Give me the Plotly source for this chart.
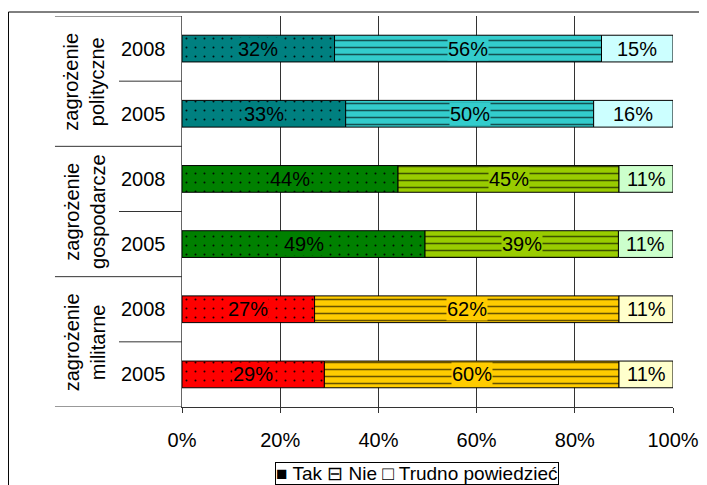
import plotly.graph_objects as go

# ---- data ----
groups = ["zagrożenie<br>polityczne", "zagrożenie<br>gospodarcze", "zagrożenie<br>militarne"]
years = ["2008", "2005", "2008", "2005", "2008", "2005"]
tak = [32, 33, 44, 49, 27, 29]
nie = [56, 50, 45, 39, 62, 60]
trudno = [15, 16, 11, 11, 11, 11]
series_names = ["Tak", "Nie", "Trudno powiedzieć"]
legend_marks = ["■", "⊟", "□"]
x_ticks = [0, 20, 40, 60, 80, 100]
x_tick_labels = ["0%", "20%", "40%", "60%", "80%", "100%"]

# colours per group (Tak, Nie, Trudno)
group_colors = [
    ("#008080", "#33CCCC", "#CCFFFF"),
    ("#008000", "#99CC00", "#CCFFCC"),
    ("#FF0000", "#FFCC00", "#FFFFCC"),
]

FONT = "Liberation Sans, Arial, sans-serif"
FS = 20

rows = list(range(len(years)))
row_group = [r // 2 for r in rows]
totals = [a + b + c for a, b, c in zip(tak, nie, trudno)]
values = [tak, nie, trudno]
shares = [[v / t * 100 for v, t in zip(s, totals)] for s in values]

pattern_specs = [
    dict(shape=".", size=9, solidity=0.04, fgcolor="black", fgopacity=0.9, fillmode="overlay"),
    dict(shape="-", size=7, solidity=0.22, fgcolor="black", fgopacity=0.6, fillmode="overlay"),
    None,
]

fig = go.Figure()
for g in range(len(groups)):
    grows = [r for r in rows if row_group[r] == g]
    base = [0.0] * len(grows)
    for k in range(3):
        xs = [shares[k][r] for r in grows]
        marker = dict(color=group_colors[g][k], line=dict(color="black", width=1))
        if pattern_specs[k]:
            marker["pattern"] = pattern_specs[k]
        fig.add_trace(go.Bar(
            y=grows, x=xs, base=base, orientation="h", width=0.41,
            name=series_names[k], marker=marker, showlegend=False, hoverinfo="skip",
        ))
        base = [b + x for b, x in zip(base, xs)]

# value labels
for k in range(3):
    for r in rows:
        start = sum(shares[j][r] for j in range(k))
        fig.add_annotation(
            x=start + shares[k][r] / 2, y=r, xref="x", yref="y",
            xanchor="center", yanchor="middle",
            text=f"{values[k][r]}%", showarrow=False,
            font=dict(family=FONT, size=FS, color="black"),
            bgcolor=group_colors[row_group[r]][k], borderpad=0,
        )

# year labels
for r in rows:
    fig.add_annotation(
        x=-0.0774, y=r, xref="paper", yref="y", text=years[r],
        xanchor="center", yanchor="middle",
        showarrow=False, font=dict(family=FONT, size=FS, color="black"),
    )
# group labels
for g, name in enumerate(groups):
    fig.add_annotation(
        x=-0.1986, y=2 * g + 0.5, xref="paper", yref="y", text=name,
        xanchor="center", yanchor="middle",
        textangle=-90, showarrow=False,
        font=dict(family=FONT, size=FS, color="black"),
    )

# legend box
legend_text = " ".join(f"{m} {n}" for m, n in zip(legend_marks, series_names))
fig.add_annotation(
    x=0.479, y=-0.141, xref="paper", yref="paper", xanchor="center", yanchor="top",
    text=legend_text, showarrow=False,
    font=dict(family=FONT, size=19, color="black"),
    bordercolor="black", borderwidth=1, borderpad=0, bgcolor="white",
)

shapes = []
for g in range(len(groups) + 1):
    shapes.append(dict(type="line", xref="paper", yref="y",
                       x0=-0.2587, x1=0, y0=2 * g - 0.5, y1=2 * g - 0.5,
                       line=dict(color="#333333", width=1)))
for g in range(len(groups)):
    shapes.append(dict(type="line", xref="paper", yref="y",
                       x0=-0.1283, x1=0, y0=2 * g + 0.5, y1=2 * g + 0.5,
                       line=dict(color="#333333", width=1)))
# outer frame
shapes.append(dict(type="rect", xref="paper", yref="paper",
                   x0=-0.3534, x1=1.1, y0=-0.3, y1=1.0102,
                   line=dict(color="black", width=1)))

fig.update_layout(
    width=699, height=477,
    margin=dict(l=174, r=34, t=8, b=78),
    barmode="overlay",
    paper_bgcolor="white", plot_bgcolor="white",
    font=dict(family=FONT, size=FS, color="black"),
    shapes=shapes,
    showlegend=False,
)
fig.update_xaxes(range=[0, 100], tickvals=x_ticks, ticktext=x_tick_labels,
                 showgrid=True, gridcolor="#333333", gridwidth=1,
                 showline=True, linecolor="#333333", linewidth=1,
                 ticks="outside", ticklen=5, tickcolor="#333333",
                 zeroline=False, ticklabelstandoff=10,
                 tickfont=dict(family=FONT, size=FS, color="black"))
fig.update_yaxes(range=[5.5, -0.5], showticklabels=False, showgrid=False,
                 zeroline=False, showline=True, linecolor="#666666", linewidth=1)

fig.write_html("out.html")
